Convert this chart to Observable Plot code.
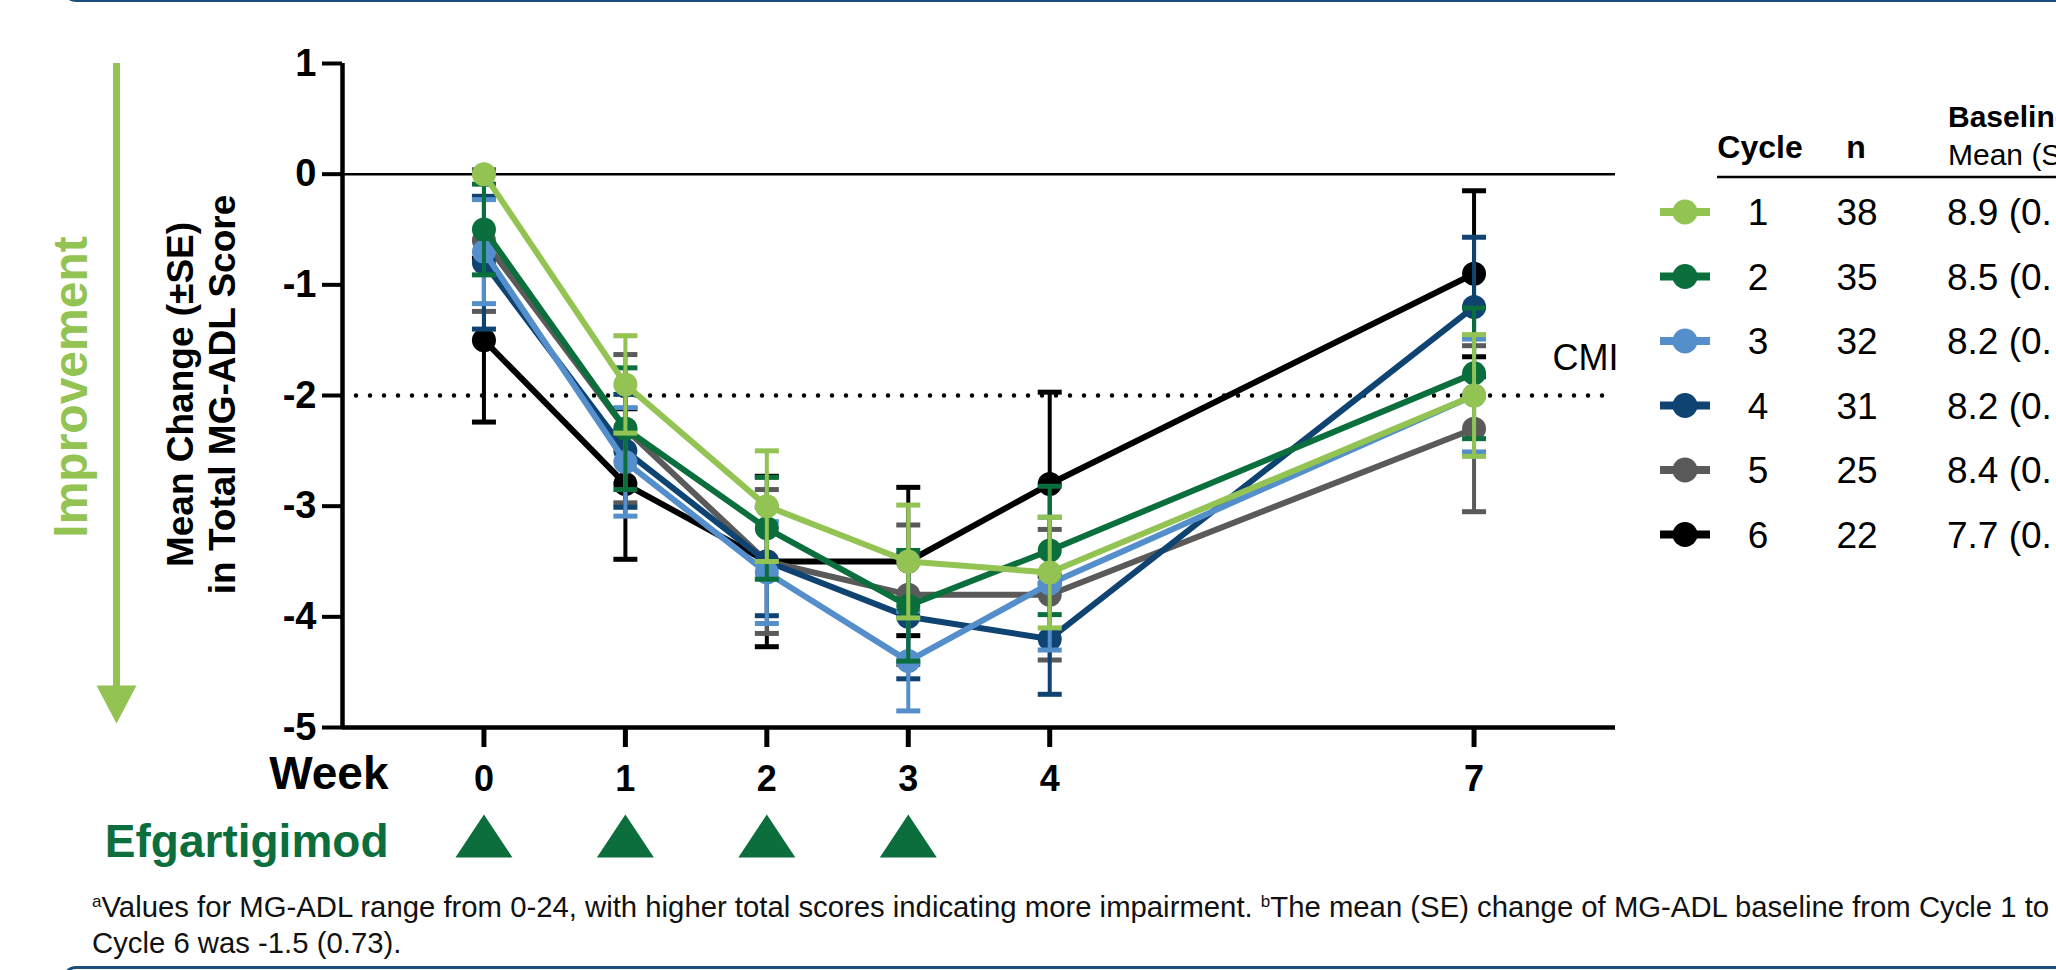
<!DOCTYPE html>
<html>
<head>
<meta charset="utf-8">
<script src="https://cdn.jsdelivr.net/npm/d3@7"></script>
<script src="https://cdn.jsdelivr.net/npm/@observablehq/plot@0.6"></script>
<style>
  html, body { margin: 0; padding: 0; background: #fff; }
  #page { position: relative; width: 2056px; height: 970px; overflow: hidden;
          font-family: "Liberation Sans", Arial, sans-serif; }
  #chart { position: absolute; left: 0; top: 0; }
  #legend { position: absolute; left: 0; top: 0; pointer-events: none; }
  .frameTop { position: absolute; left: 62px; top: -30px; width: 2100px; height: 32px; box-sizing: border-box;
              border-left: 3px solid #1d4f7c; border-bottom: 3px solid #1d4f7c; border-bottom-left-radius: 14px; }
  .frameBottom { position: absolute; left: 62px; top: 966px; width: 2100px; height: 40px; box-sizing: border-box;
              border-left: 3px solid #1d4f7c; border-top: 3px solid #1d4f7c; border-top-left-radius: 14px; }
  #foot { position: absolute; left: 92px; top: 888.6px; font-size: 29.3px; line-height: 36px; color: #111;
          white-space: nowrap; }
  #foot .sup { font-size: 17px; vertical-align: 10px; line-height: 0; }
</style>
</head>
<body>
<div id="page">
  <div class="frameTop"></div>
  <div id="chart"></div>
  <div id="foot"></div>
  <div class="frameBottom"></div>
</div>
<script>
// ---------------- data ----------------
const weeks = [0, 1, 2, 3, 4, 7];
const dosingWeeks = [0, 1, 2, 3];
const yTicks = [1, 0, -1, -2, -3, -4, -5];
const cycles = [1, 2, 3, 4, 5, 6];
const cycleN = [38, 35, 32, 31, 25, 22];
const baselineText = ["8.9 (0.", "8.5 (0.", "8.2 (0.", "8.2 (0.", "8.4 (0.", "7.7 (0."];
const cycleColors = ["#92c353", "#0b6e3d", "#548fcb", "#0e4372", "#5a5a5a", "#000000"];

const meanCycle1 = [0, -1.9, -3.0, -3.5, -3.6, -2.0];
const seCycle1   = [0, 0.44, 0.50, 0.51, 0.50, 0.55];
const meanCycle2 = [-0.5, -2.3, -3.2, -3.9, -3.4, -1.8];
const seCycle2   = [0.41, 0.55, 0.46, 0.50, 0.58, 0.59];
const meanCycle3 = [-0.7, -2.6, -3.6, -4.4, -3.7, -2.0];
const seCycle3   = [0.47, 0.49, 0.46, 0.45, 0.60, 0.51];
const meanCycle4 = [-0.8, -2.5, -3.5, -4.0, -4.2, -1.2];
const seCycle4   = [0.60, 0.51, 0.49, 0.56, 0.50, 0.63];
const meanCycle5 = [-0.6, -2.3, -3.5, -3.8, -3.8, -2.3];
const seCycle5   = [0.64, 0.67, 0.65, 0.63, 0.59, 0.75];
const meanCycle6 = [-1.5, -2.8, -3.5, -3.5, -2.8, -0.9];
const seCycle6   = [0.74, 0.68, 0.77, 0.67, 0.83, 0.75];

const cmiValue = -2;
const yTitle = "Mean Change (±SE)\nin Total MG-ADL Score";
const improveLabel = "Improvement";
const weekLabel = "Week";
const drugLabel = "Efgartigimod";
const drugColor = "#0b6e3c";
const improveColor = "#92c353";

// ---------------- build ----------------
const means = [meanCycle1, meanCycle2, meanCycle3, meanCycle4, meanCycle5, meanCycle6];
const ses = [seCycle1, seCycle2, seCycle3, seCycle4, seCycle5, seCycle6];
const rows = cycles.flatMap((c, i) => weeks.map((w, j) => ({cycle: c, week: w, mean: means[i][j], se: ses[i][j]})));

const capSymbol = { draw(ctx) { ctx.moveTo(-12, 0); ctx.lineTo(12, 0); } };
const triUp = { draw(ctx) { ctx.moveTo(0, -21.5); ctx.lineTo(28.5, 21.5); ctx.lineTo(-28.5, 21.5); ctx.closePath(); } };
const triDown = { draw(ctx) { ctx.moveTo(-20, -19); ctx.lineTo(20, -19); ctx.lineTo(0, 19); ctx.closePath(); } };

const seriesMarks = [];
for (let i = cycles.length - 1; i >= 0; i--) {
  const c = cycles[i], col = cycleColors[i];
  const d = rows.filter(r => r.cycle === c);
  const e = d.filter(r => r.se > 0);
  const caps = e.flatMap(r => [{week: r.week, v: r.mean + r.se}, {week: r.week, v: r.mean - r.se}]);
  seriesMarks.push(
    Plot.line(d, {x: "week", y: "mean", stroke: col, strokeWidth: 6}),
    Plot.ruleX(e, {x: "week", y1: r => r.mean - r.se, y2: r => r.mean + r.se, stroke: col, strokeWidth: 4}),
    Plot.dot(caps, {x: "week", y: "v", symbol: capSymbol, fill: "none", stroke: col, strokeWidth: 5}),
    Plot.dot(d, {x: "week", y: "mean", r: 12, fill: col})
  );
}

const font = "'Liberation Sans', Arial, sans-serif";
const chart = Plot.plot({
  width: 2056,
  height: 880,
  marginLeft: 342,
  marginRight: 441,
  marginTop: 63,
  marginBottom: 153,
  x: {domain: [-1, 8]},
  y: {domain: [-5, 1]},
  style: {fontFamily: font, color: "#000", background: "transparent", overflow: "visible"},
  marks: [
    // improvement arrow
    Plot.ruleX([-1], {dx: -226, insetBottom: 37, stroke: improveColor, strokeWidth: 7}),
    Plot.dot([-1], {x: d => d, frameAnchor: "bottom", dx: -226, dy: -23, symbol: triDown, fill: improveColor}),
    Plot.text([improveLabel], {frameAnchor: "left", text: d => d, dx: -270.7, dy: -8.5, rotate: -90,
      textAnchor: "middle", lineAnchor: "middle", fontSize: 48, fontWeight: "bold", fill: improveColor}),
    // y title
    Plot.text([yTitle], {frameAnchor: "left", text: d => d, dx: -142, dy: -1, rotate: -90,
      textAnchor: "middle", lineAnchor: "middle", lineHeight: 1.135, fontSize: 37, fontWeight: "bold", fill: "#000"}),
    // reference lines
    Plot.ruleY([0], {stroke: "#000", strokeWidth: 2.5}),
    Plot.ruleY([cmiValue], {stroke: "#000", strokeWidth: 4.5, strokeDasharray: "0 14", strokeLinecap: "round"}),
    Plot.text([cmiValue], {y: d => d, frameAnchor: "right", text: () => "CMI", textAnchor: "end", lineAnchor: "middle",
      dx: 3, dy: -37, fontSize: 36, fill: "#000"}),
    // axes
    Plot.axisY({ticks: yTicks, tickSize: 20, tickPadding: 6, strokeWidth: 4, fontSize: 38, fontWeight: "bold",
      label: null, tickFormat: d => String(d)}),
    Plot.axisX({ticks: weeks, tickSize: 20, tickPadding: 18, strokeWidth: 5, fontSize: 36, fontWeight: "bold",
      label: null, tickFormat: d => String(d)}),
    Plot.ruleX([-1], {stroke: "#000", strokeWidth: 4.5}),
    Plot.ruleY([-5], {stroke: "#000", strokeWidth: 4.5}),
    // series
    ...seriesMarks,
    // week / dosing row
    Plot.text([weekLabel], {frameAnchor: "bottom-left", text: d => d, dx: 46, dy: 47, textAnchor: "end",
      lineAnchor: "middle", fontSize: 46, fontWeight: "bold", fill: "#000"}),
    Plot.text([drugLabel], {frameAnchor: "bottom-left", text: d => d, dx: 46, dy: 115, textAnchor: "end",
      lineAnchor: "middle", fontSize: 46, fontWeight: "bold", fill: drugColor}),
    Plot.dot(dosingWeeks, {x: d => d, frameAnchor: "bottom", dy: 108.5, symbol: triUp, fill: drugColor})
  ]
});
document.getElementById("chart").appendChild(chart);

// ---------------- legend table ----------------
const lg = d3.create("svg").attr("id", "legend").attr("width", 2056).attr("height", 970)
  .style("font-family", font);
lg.append("text").attr("x", 1948).attr("y", 127).attr("font-size", 30).attr("font-weight", "bold").text("Baseline");
lg.append("text").attr("x", 1948).attr("y", 165).attr("font-size", 30).text("Mean (SE)");
lg.append("text").attr("x", 1760).attr("y", 158).attr("font-size", 32).attr("font-weight", "bold")
  .attr("text-anchor", "middle").text("Cycle");
lg.append("text").attr("x", 1856).attr("y", 158).attr("font-size", 32).attr("font-weight", "bold")
  .attr("text-anchor", "middle").text("n");
lg.append("line").attr("x1", 1717).attr("x2", 2060).attr("y1", 177).attr("y2", 177)
  .attr("stroke", "#000").attr("stroke-width", 2.5);
cycles.forEach((c, i) => {
  const yc = 212 + 64.5 * i;
  const g = lg.append("g");
  g.append("line").attr("x1", 1660).attr("x2", 1710).attr("y1", yc).attr("y2", yc)
    .attr("stroke", cycleColors[i]).attr("stroke-width", 8);
  g.append("circle").attr("cx", 1685).attr("cy", yc).attr("r", 12.5).attr("fill", cycleColors[i]);
  g.append("text").attr("x", 1758).attr("y", yc + 13.3).attr("font-size", 37).attr("text-anchor", "middle").text(c);
  g.append("text").attr("x", 1857).attr("y", yc + 13.3).attr("font-size", 37).attr("text-anchor", "middle").text(cycleN[i]);
  g.append("text").attr("x", 1947).attr("y", yc + 13.3).attr("font-size", 37).text(baselineText[i]);
});
document.getElementById("page").appendChild(lg.node());

// ---------------- footnote ----------------
document.getElementById("foot").innerHTML =
  '<span class="sup">a</span>Values for MG-ADL range from 0-24, with higher total scores indicating more impairment. ' +
  '<span class="sup">b</span>The mean (SE) change of MG-ADL baseline from Cycle 1 to<br>Cycle 6 was -1.5 (0.73).';
</script>
</body>
</html>
